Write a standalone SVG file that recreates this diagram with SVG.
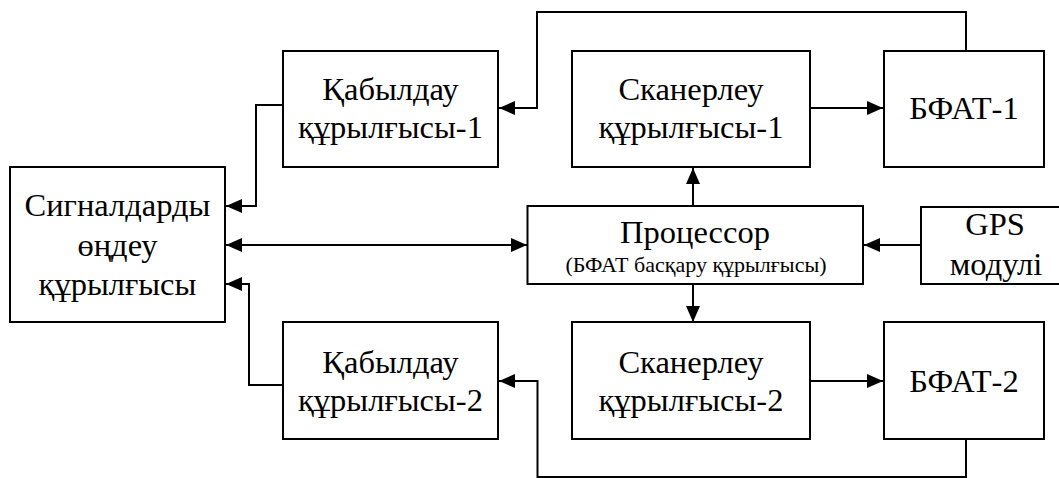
<svg xmlns="http://www.w3.org/2000/svg" width="1059" height="478" viewBox="0 0 1059 478">
  <style>
    .box { fill: #ffffff; stroke: #000000; stroke-width: 2; }
    .lbl { font-family: "Liberation Serif", "Times New Roman", serif; font-size: 32.5px; fill: #000000; text-anchor: middle; }
    .sub { font-family: "Liberation Serif", "Times New Roman", serif; font-size: 22px; fill: #000000; text-anchor: middle; }
    .wire { fill: none; stroke: #000000; stroke-width: 2; }
  </style>
  <defs>
    <marker id="arrow" viewBox="0 0 16 14" markerWidth="16" markerHeight="14" refX="16" refY="7" orient="auto-start-reverse" markerUnits="userSpaceOnUse">
      <path d="M0,0 L16,7 L0,14 Z" fill="#000000"/>
    </marker>
  </defs>

  <rect width="1059" height="478" fill="#ffffff"/>

  <!-- connectors -->
  <g id="connectors">
    <path class="wire" d="M283,105 H256 V206 H226" marker-end="url(#arrow)"/>
    <path class="wire" d="M283,385 H249 V284 H226" marker-end="url(#arrow)"/>
    <path class="wire" d="M226,245 H527" marker-start="url(#arrow)" marker-end="url(#arrow)"/>
    <path class="wire" d="M966,51 V12 H537 V108 H499" marker-end="url(#arrow)"/>
    <path class="wire" d="M966,439 V477 H537.5 V381 H499" marker-end="url(#arrow)"/>
    <path class="wire" d="M810,108 H883" marker-end="url(#arrow)"/>
    <path class="wire" d="M810,381 H883" marker-end="url(#arrow)"/>
    <path class="wire" d="M693,206 V168" marker-end="url(#arrow)"/>
    <path class="wire" d="M693,284 V322" marker-end="url(#arrow)"/>
    <path class="wire" d="M921,245 H864" marker-end="url(#arrow)"/>
  </g>

  <!-- receiver 1 -->
  <g id="receiver1">
    <rect class="box" x="283" y="51" width="215" height="116"/>
    <text class="lbl" x="390.5" y="100">Қабылдау</text>
    <text class="lbl" x="390.5" y="138">құрылғысы-1</text>
  </g>

  <!-- scanner 1 -->
  <g id="scanner1">
    <rect class="box" x="572" y="51" width="238" height="116"/>
    <text class="lbl" x="691" y="100">Сканерлеу</text>
    <text class="lbl" x="691" y="138">құрылғысы-1</text>
  </g>

  <!-- antenna array 1 -->
  <g id="bfat1">
    <rect class="box" x="884" y="51" width="160" height="116"/>
    <text class="lbl" x="964" y="119">БФАТ-1</text>
  </g>

  <!-- signal processing unit -->
  <g id="signal-processing">
    <rect class="box" x="10" y="167" width="215" height="155"/>
    <text class="lbl" x="117.5" y="216">Сигналдарды</text>
    <text class="lbl" x="117.5" y="256">өңдеу</text>
    <text class="lbl" x="117.5" y="295">құрылғысы</text>
  </g>

  <!-- processor -->
  <g id="processor">
    <rect class="box" x="527.5" y="206" width="335.5" height="78"/>
    <text class="lbl" x="695" y="243">Процессор</text>
    <text class="sub" x="696" y="272">(БФАТ басқару құрылғысы)</text>
  </g>

  <!-- GPS module -->
  <g id="gps">
    <rect class="box" x="921" y="207" width="150" height="77"/>
    <text class="lbl" x="995" y="235">GPS</text>
    <text class="lbl" x="996" y="275">модулі</text>
  </g>

  <!-- receiver 2 -->
  <g id="receiver2">
    <rect class="box" x="283" y="322" width="215" height="117"/>
    <text class="lbl" x="390.5" y="373">Қабылдау</text>
    <text class="lbl" x="390.5" y="411">құрылғысы-2</text>
  </g>

  <!-- scanner 2 -->
  <g id="scanner2">
    <rect class="box" x="572" y="322" width="238" height="117"/>
    <text class="lbl" x="691" y="373">Сканерлеу</text>
    <text class="lbl" x="691" y="411">құрылғысы-2</text>
  </g>

  <!-- antenna array 2 -->
  <g id="bfat2">
    <rect class="box" x="884" y="322" width="160" height="117"/>
    <text class="lbl" x="964" y="392">БФАТ-2</text>
  </g>
</svg>
